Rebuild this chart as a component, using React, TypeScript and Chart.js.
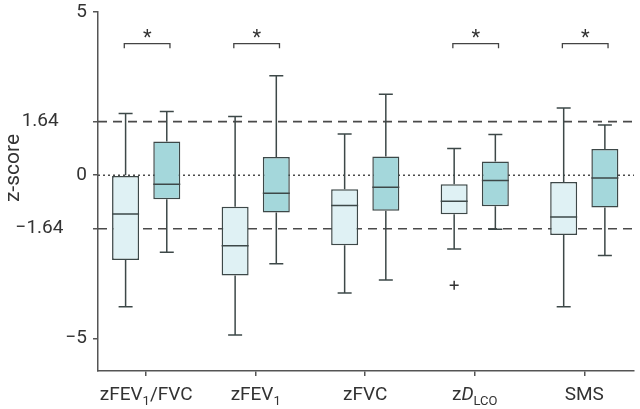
import React, { useEffect, useRef } from 'react';
import { Chart, registerables } from 'chart.js';

Chart.register(...registerables);

// ---------- data ----------
const categories = ['zFEV1/FVC', 'zFEV1', 'zFVC', 'zDLCO', 'SMS'];
const groupPositions = [1, 2, 3, 4, 5];

// light boxes (group A)
const aMin = [-4.03, -4.9, -3.61, -2.26, -4.03];
const aQ1 = [-2.6, -3.07, -2.15, -1.2, -1.83];
const aMedian = [-1.19, -2.16, -0.93, -0.8, -1.28];
const aQ3 = [0.0, -0.97, -0.43, -0.28, -0.21];
const aMax = [1.89, 1.8, 1.26, 0.82, 2.06];

// dark boxes (group B)
const bMin = [-2.36, -2.71, -3.21, -1.66, -2.46];
const bQ1 = [-0.74, -1.14, -1.09, -0.95, -0.99];
const bMedian = [-0.28, -0.55, -0.37, -0.16, -0.09];
const bQ3 = [1.03, 0.56, 0.57, 0.42, 0.8];
const bMax = [1.95, 3.05, 2.48, 1.25, 1.54];

const outlierGroups = [4];
const outlierValues = [-3.37];

const significantGroups = [1, 2, 4, 5];
const yTickValues = [5, 1.64, 0, -1.64, -5];
const yTickLabels = ['5', '1.64      ', '0', '\u22121.64     ', '\u22125'];
const thresholdValues = [1.64, -1.64];

// rich text parts of the category labels
const categoryLabelParts = [
  [{ t: 'zFEV' }, { t: '1', sub: true }, { t: '/FVC' }],
  [{ t: 'zFEV' }, { t: '1', sub: true }],
  [{ t: 'zFVC' }],
  [{ t: 'z' }, { t: 'D', it: true }, { t: 'LCO', sub: true }],
  [{ t: 'SMS' }],
];

// ---------- style ----------
const X_MIN = 0.56;
const X_MAX = 5.454;
const Y_MIN = -6;
const Y_MAX = 5;
const OFF = 0.188;
const LIGHT = '#dff1f4';
const DARK = '#a4d7db';
const STROKE = '#3d4848';
const AXIS = '#555555';
const TEXT = '#333333';
const FONT = 'Roboto';
const BRACKET_Y = 4.03;
const BRACKET_LEG = 3.89;

const extrasPlugin = {
  id: 'boxExtras',
  afterDatasetsDraw(chart: any) {
    const { ctx } = chart;
    const x = chart.scales.x;
    const y = chart.scales.y;
    ctx.save();
    ctx.strokeStyle = STROKE;
    ctx.lineWidth = 1.5;
    const series = [
      { ds: 0, off: -OFF, min: aMin, q1: aQ1, med: aMedian, q3: aQ3, max: aMax },
      { ds: 1, off: OFF, min: bMin, q1: bQ1, med: bMedian, q3: bQ3, max: bMax },
    ];
    series.forEach((s) => {
      const meta = chart.getDatasetMeta(s.ds);
      groupPositions.forEach((g, i) => {
        const el = meta.data[i];
        const cx = el ? el.x : x.getPixelForValue(g + s.off);
        const w = el ? el.width : 27;
        const cap = 7;
        const pMax = y.getPixelForValue(s.max[i]);
        const pQ3 = y.getPixelForValue(s.q3[i]);
        const pQ1 = y.getPixelForValue(s.q1[i]);
        const pMin = y.getPixelForValue(s.min[i]);
        const pMed = y.getPixelForValue(s.med[i]);
        ctx.beginPath();
        ctx.moveTo(cx, pMax);
        ctx.lineTo(cx, pQ3);
        ctx.moveTo(cx, pQ1);
        ctx.lineTo(cx, pMin);
        ctx.moveTo(cx - cap, pMax);
        ctx.lineTo(cx + cap, pMax);
        ctx.moveTo(cx - cap, pMin);
        ctx.lineTo(cx + cap, pMin);
        ctx.moveTo(cx - w / 2, pMed);
        ctx.lineTo(cx + w / 2, pMed);
        ctx.stroke();
      });
    });

    // significance brackets
    ctx.strokeStyle = '#444';
    ctx.lineWidth = 1.3;
    ctx.fillStyle = TEXT;
    ctx.textAlign = 'center';
    ctx.textBaseline = 'alphabetic';
    ctx.font = `20px ${FONT}`;
    significantGroups.forEach((g) => {
      const x1 = x.getPixelForValue(g - 0.2);
      const x2 = x.getPixelForValue(g + 0.217);
      const yb = y.getPixelForValue(BRACKET_Y);
      const yl = y.getPixelForValue(BRACKET_LEG);
      ctx.beginPath();
      ctx.moveTo(x1, yl);
      ctx.lineTo(x1, yb);
      ctx.lineTo(x2, yb);
      ctx.lineTo(x2, yl);
      ctx.stroke();
      ctx.fillText('*', x.getPixelForValue(g) + 1, yb);
    });
    ctx.restore();
  },
  afterDraw(chart: any) {
    const { ctx } = chart;
    const x = chart.scales.x;
    ctx.save();
    ctx.fillStyle = TEXT;
    ctx.textBaseline = 'alphabetic';
    ctx.textAlign = 'left';
    const mainFont = `19px ${FONT}`;
    const itFont = `italic 19px ${FONT}`;
    const subFont = `13px ${FONT}`;
    categoryLabelParts.forEach((parts, i) => {
      const fontOf = (p: any) => (p.sub ? subFont : p.it ? itFont : mainFont);
      let total = 0;
      parts.forEach((p: any) => {
        ctx.font = fontOf(p);
        total += ctx.measureText(p.t).width;
      });
      let cx = x.getPixelForValue(groupPositions[i]) - total / 2;
      parts.forEach((p: any) => {
        ctx.font = fontOf(p);
        ctx.fillText(p.t, cx, p.sub ? 405 : 400);
        cx += ctx.measureText(p.t).width;
      });
    });
    // y axis title
    ctx.translate(18.5, 168);
    ctx.rotate(-Math.PI / 2);
    ctx.textAlign = 'center';
    ctx.font = `21px ${FONT}`;
    ctx.fillText('z-score', 0, 0);
    ctx.restore();
  },
};

export default function App() {
  const ref = useRef<HTMLCanvasElement | null>(null);
  useEffect(() => {
    if (!ref.current) return;
    const chart = new Chart(ref.current, {
      type: 'bar',
      data: {
        datasets: [
          {
            type: 'bar',
            label: 'A',
            data: groupPositions.map((g, i) => ({ x: g - OFF, y: [aQ1[i], aQ3[i]] })) as any,
            backgroundColor: LIGHT,
            borderColor: STROKE,
            borderWidth: 1.5,
            borderSkipped: false,
            grouped: false,
            maxBarThickness: 27,
            order: 1,
          },
          {
            type: 'bar',
            label: 'B',
            data: groupPositions.map((g, i) => ({ x: g + OFF, y: [bQ1[i], bQ3[i]] })) as any,
            backgroundColor: DARK,
            borderColor: STROKE,
            borderWidth: 1.5,
            borderSkipped: false,
            grouped: false,
            maxBarThickness: 27,
            order: 1,
          },
          ...thresholdValues.map((v) => ({
            type: 'line' as const,
            label: 'thr' + v,
            data: [
              { x: X_MIN, y: v },
              { x: X_MAX, y: v },
            ],
            borderColor: '#4a4a4a',
            borderWidth: 1.6,
            borderDash: [9, 6],
            pointRadius: 0,
            order: 10,
          })),
          {
            type: 'line' as const,
            label: 'zero',
            data: [
              { x: X_MIN, y: 0 },
              { x: X_MAX, y: 0 },
            ],
            borderColor: '#4a4a4a',
            borderWidth: 1.6,
            borderDash: [2, 3],
            pointRadius: 0,
            order: 10,
          },
          {
            type: 'scatter' as const,
            label: 'outliers',
            data: outlierGroups.map((g, i) => ({ x: g - OFF, y: outlierValues[i] })),
            pointStyle: 'cross',
            pointRadius: 4.5,
            borderColor: '#333',
            borderWidth: 1.5,
            order: 0,
          },
        ] as any,
      },
      options: {
        animation: false,
        responsive: true,
        maintainAspectRatio: false,
        layout: { padding: 0 },
        plugins: { legend: { display: false }, tooltip: { enabled: false } },
        scales: {
          x: {
            type: 'linear',
            offset: false,
            min: X_MIN,
            max: X_MAX,
            afterBuildTicks: (s: any) => {
              s.ticks = groupPositions.map((v) => ({ value: v }));
            },
            afterFit: (s: any) => {
              s.height = 38;
              s.paddingLeft = 0;
              s.paddingRight = 0;
            },
            ticks: { callback: () => '', font: { family: FONT, size: 19 } },
            grid: { offset: false, drawOnChartArea: false, drawTicks: true, tickLength: 5, color: AXIS, lineWidth: 1.5 },
            border: { display: true, color: AXIS, width: 1.5 },
          },
          y: {
            type: 'linear',
            min: Y_MIN,
            max: Y_MAX,
            afterBuildTicks: (s: any) => {
              s.ticks = yTickValues.map((v) => ({ value: v }));
            },
            afterFit: (s: any) => {
              s.width = 98;
              s.paddingTop = 12;
              s.paddingBottom = 0;
            },
            ticks: {
              padding: 6,
              color: TEXT,
              font: { family: FONT, size: 19 },
              callback: (v: any) => {
                const idx = yTickValues.indexOf(Number(v));
                return idx >= 0 ? yTickLabels[idx] : '';
              },
            },
            grid: { drawOnChartArea: false, drawTicks: true, tickLength: 5, color: AXIS, lineWidth: 1.5 },
            border: { display: true, color: AXIS, width: 1.5 },
          },
        },
      },
      plugins: [extrasPlugin],
    });
    return () => chart.destroy();
  }, []);
  return (
    <div style={{ position: 'absolute', left: 0, top: 0, width: 640, height: 409, background: '#fff' }}>
      <canvas ref={ref} />
    </div>
  );
}
